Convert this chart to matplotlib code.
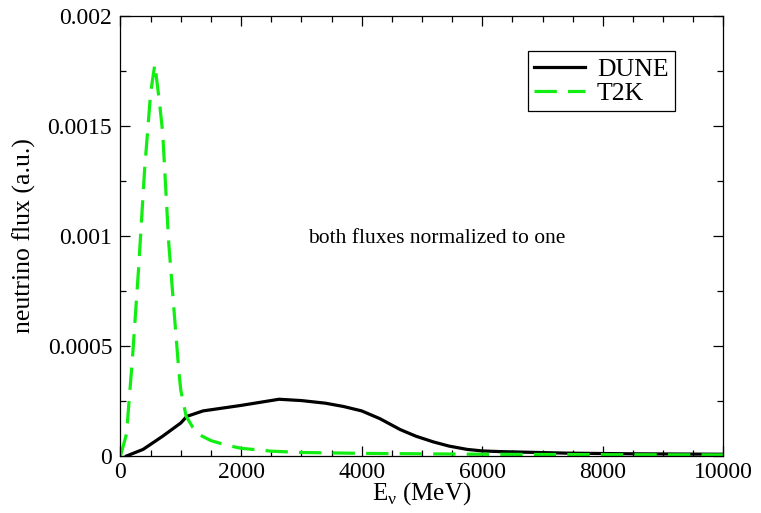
import numpy as np
import matplotlib
matplotlib.use("agg")
import matplotlib.pyplot as plt
from matplotlib.ticker import MultipleLocator

# flux spectra, energies in MeV
dune_e = [100, 375, 700, 1000, 1100, 1370, 2000, 2630, 3000, 3400, 3700,
          4000, 4300, 4640, 4900, 5190, 5450, 5750, 6000, 6300, 7400, 8500,
          10000]
dune_flux = [0.0, 0.00003, 0.00009, 0.00015, 0.00018, 0.000205, 0.00023,
             0.000258, 0.000252, 0.00024, 0.000225, 0.000205, 0.00017,
             0.00012, 0.00009, 0.000064, 0.000045, 0.00003, 0.000023,
             0.00002, 0.000013, 0.00001, 0.000008]

t2k_e = [0, 100, 200, 300, 400, 500, 570, 650, 700, 800, 900, 970, 1000,
         1090, 1200, 1320, 1500, 1750, 2000, 2500, 3000, 4000, 5000, 6000,
         8000, 10000]
t2k_flux = [0.0, 0.0001, 0.00045, 0.00085, 0.0013, 0.00165, 0.00178, 0.0016,
            0.00147, 0.00097, 0.00062, 0.00038, 0.0003, 0.00018, 0.00013,
            0.000095, 0.00007, 0.00005, 0.000035, 0.000022, 0.000016,
            0.000012, 0.00001, 0.000008, 0.000006, 0.000005]

plt.rcParams['font.family'] = ['Liberation Serif', 'DejaVu Serif']

fig = plt.figure(figsize=(7.61, 5.13), dpi=100)
ax = fig.add_axes([0.1583, 0.1111, 0.7924, 0.8577])

ax.plot(dune_e, dune_flux, color='black', lw=2.3, label='DUNE')
ax.plot(t2k_e, t2k_flux, color='#11ee11', lw=2.3, dashes=(7, 3.5),
        dash_capstyle='butt', label='T2K')

ax.set_xlim(0, 10000)
ax.set_ylim(0, 0.002)
ax.xaxis.set_major_locator(MultipleLocator(2000))
ax.xaxis.set_minor_locator(MultipleLocator(500))
ax.yaxis.set_minor_locator(MultipleLocator(0.00025))
ax.set_yticks([0, 0.0005, 0.001, 0.0015, 0.002])
ax.set_yticklabels(['0', '0.0005', '0.001', '0.0015', '0.002'])

ax.tick_params(which='both', direction='in', top=True, right=True,
               labelsize=17, width=0.9)
ax.tick_params(which='major', length=7)
ax.tick_params(which='minor', length=4.3)
ax.tick_params(axis='y', pad=6)
ax.tick_params(axis='x', pad=4)
for s in ax.spines.values():
    s.set_linewidth(0.9)

ax.set_xlabel(r'E$_{\mathregular{\nu}}$ (MeV)', fontsize=18, labelpad=-2)
ax.set_ylabel('neutrino flux (a.u.)', fontsize=18.5, labelpad=8)

ax.text(5250, 0.00099, 'both fluxes normalized to one', fontsize=15.5,
        ha='center', va='center')

leg = ax.legend(loc='upper right', bbox_to_anchor=(0.9196, 0.920),
                borderaxespad=0, fontsize=18.5, fancybox=False,
                edgecolor='black', framealpha=1, handlelength=2.0,
                handletextpad=0.45, labelspacing=0.05, borderpad=0.25)
leg.get_frame().set_linewidth(0.9)

fig.savefig('out.png', dpi=100)
